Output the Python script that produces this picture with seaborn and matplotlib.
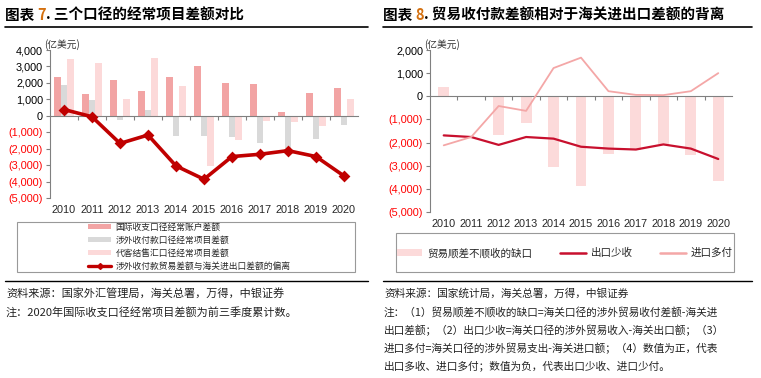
import matplotlib
matplotlib.use("Agg")
import matplotlib.pyplot as plt
import seaborn as sns
import pandas as pd
from matplotlib.patches import Rectangle, Patch
from matplotlib.lines import Line2D
from matplotlib.ticker import FuncFormatter

sns.set_theme(style="white")
plt.rcParams['font.family'] = ['Liberation Sans', 'Noto Sans CJK SC', 'DejaVu Sans']
CJK = ['Noto Sans CJK SC', 'DejaVu Sans']

years = ['2010', '2011', '2012', '2013', '2014', '2015', '2016', '2017', '2018', '2019', '2020']

# Chart 7 data (亿美元)
bop_ca = [2350, 1350, 2150, 1500, 2350, 3030, 2020, 1960, 240, 1410, 1660]
cross_border_ca = [1860, 950, -250, 350, -1200, -1230, -1270, -1640, -2080, -1410, -570]
fx_settlement_ca = [3430, 3200, 1050, 3500, 1800, -3080, -1470, -300, -360, -630, 1010]
deviation = [380, -60, -1680, -1170, -3050, -3860, -2480, -2340, -2120, -2480, -3660]

series7 = ['国际收支口径经常账户差额', '涉外收付款口径经常项目差额', '代客结售汇口径经常项目差额']
line7_label = '涉外收付款贸易差额与海关进出口差额的偏离'

# Chart 8 data (亿美元)
gap = [390, -30, -1690, -1160, -3060, -3870, -2490, -2300, -2080, -2520, -3680]
export_less = [-1690, -1760, -2100, -1760, -1830, -2180, -2260, -2300, -2080, -2260, -2710]
import_more = [-2120, -1760, -420, -630, 1220, 1670, 220, 60, 50, 220, 1000]
labels8 = ['贸易顺差不顺收的缺口', '出口少收', '进口多付']

c_red = '#F2A4A4'
c_gray = '#D9D9D9'
c_pink = '#FCD9D9'
c_line = '#C00000'
c_gap = '#FCDADA'
c_exp = '#C8102E'
c_imp = '#F4A7A7'

W, H = 761, 378
fig = plt.figure(figsize=(W / 100, H / 100), dpi=100)


def fx(px):
    return px / W


def fy(py):
    return 1 - py / H


def fmt(v, pos):
    if v < 0:
        return '({:,.0f})'.format(-v)
    return '{:,.0f}'.format(v)


def style_axis(ax, ylo, yhi):
    ax.set_ylim(ylo, yhi)
    ax.set_xlim(-0.5, len(years) - 0.5)
    ax.set_yticks(range(ylo, yhi + 1, 1000))
    ax.yaxis.set_major_formatter(FuncFormatter(fmt))
    for s in ['top', 'right']:
        ax.spines[s].set_visible(False)
    ax.spines['left'].set_color('#808080')
    ax.spines['left'].set_linewidth(0.8)
    ax.spines['bottom'].set_position(('data', 0))
    ax.spines['bottom'].set_color('#808080')
    ax.spines['bottom'].set_linewidth(0.8)
    ax.set_xticks(range(len(years)))
    ax.tick_params(axis='x', which='major', length=0, labelbottom=False)
    ax.set_xticks([i + 0.5 for i in range(len(years) - 1)], minor=True)
    ax.tick_params(axis='x', which='minor', length=3, color='#808080', width=0.8, direction='out', bottom=True)
    ax.tick_params(axis='y', length=3, color='#808080', width=0.8, direction='out', left=True, labelsize=7.8, pad=2)
    for lab in ax.get_yticklabels():
        lab.set_color('#FF0000' if lab.get_text().startswith('(') else '#000000')
    sec = ax.secondary_xaxis(0)
    sec.set_xticks(range(len(years)), labels=years)
    sec.spines['bottom'].set_visible(False)
    sec.tick_params(length=0, labelsize=7.8, pad=5)
    ax.set_xlabel('')
    ax.set_ylabel('')
    ax.grid(False)


# ---------- Left chart ----------
ax1 = fig.add_axes([fx(50), fy(198), fx(358) - fx(50), fy(50) - fy(198)])
df7 = pd.DataFrame({
    'year': years * 3,
    'value': bop_ca + cross_border_ca + fx_settlement_ca,
    'series': [series7[0]] * 11 + [series7[1]] * 11 + [series7[2]] * 11,
})
sns.barplot(data=df7, x='year', y='value', hue='series', order=years, hue_order=series7,
            palette=[c_red, c_gray, c_pink], width=0.72, saturation=1, ax=ax1, legend=False,
            linewidth=0)
sns.pointplot(x=years, y=deviation, order=years, color=c_line, markers='D', markersize=4.5,
              linewidth=2.6, ax=ax1, zorder=5)
style_axis(ax1, -5000, 4000)
ax1.text(-0.02, 1.0, '(亿美元)', transform=ax1.transAxes, ha='left', va='bottom',
         fontsize=7, family=CJK, color='#333333')

# ---------- Right chart ----------
ax2 = fig.add_axes([fx(430), fy(212), fx(732) - fx(430), fy(50) - fy(212)])
sns.barplot(x=years, y=gap, order=years, color=c_gap, width=0.4, saturation=1, ax=ax2, linewidth=0)
df_exp = pd.DataFrame({'year': years, 'value': export_less})
df_imp = pd.DataFrame({'year': years, 'value': import_more})
sns.lineplot(data=df_exp, x='year', y='value', color=c_exp, linewidth=1.6, sort=False, ax=ax2, zorder=4)
sns.lineplot(data=df_imp, x='year', y='value', color=c_imp, linewidth=1.3, sort=False, ax=ax2, zorder=4)
style_axis(ax2, -5000, 2000)
ax2.text(-0.02, 1.0, '(亿美元)', transform=ax2.transAxes, ha='left', va='bottom',
         fontsize=7, family=CJK, color='#333333')

# ---------- Titles ----------
fig.canvas.draw()
renderer = fig.canvas.get_renderer()


def chain_title(x0, y0, parts):
    x = x0
    for txt, col in parts:
        t = fig.text(x, y0, txt, ha='left', va='center', fontsize=10.5, fontweight='bold',
                     family=CJK, color=col)
        bb = t.get_window_extent(renderer=renderer)
        x += bb.width / W


chain_title(fx(5), fy(15), [('图表 ', '#000000'), ('7', '#D4700F'), ('. 三个口径的经常项目差额对比', '#000000')])
chain_title(fx(383), fy(15), [('图表 ', '#000000'), ('8', '#D4700F'), ('. 贸易收付款差额相对于海关进出口差额的背离', '#000000')])

for (x0, x1) in [(5, 368), (383, 752)]:
    fig.add_artist(Line2D([fx(x0), fx(x1)], [fy(27), fy(27)], color='black', linewidth=1.2))
    fig.add_artist(Line2D([fx(x0), fx(x1)], [fy(281), fy(281)], color='black', linewidth=1.0))

# ---------- Legends ----------
fig.add_artist(Rectangle((fx(17), fy(272)), fx(355) - fx(17), fy(222) - fy(272),
                         fill=False, edgecolor='#999999', linewidth=0.8))
h7 = [Patch(facecolor=c_red, edgecolor='none'), Patch(facecolor=c_gray, edgecolor='none'),
      Patch(facecolor=c_pink, edgecolor='none'),
      Line2D([0], [0], color=c_line, linewidth=2.4, marker='D', markersize=3)]
fig.legend(h7, series7 + [line7_label], loc='center left', bbox_to_anchor=(fx(84), fy(247)),
           frameon=False, prop={'family': CJK, 'size': 6.3}, handlelength=2.6, handleheight=0.5,
           labelspacing=0.45, handletextpad=0.5, borderpad=0)

fig.add_artist(Rectangle((fx(396), fy(272)), fx(734) - fx(396), fy(233) - fy(272),
                         fill=False, edgecolor='#999999', linewidth=0.8))
h8 = [Patch(facecolor=c_gap, edgecolor='none'),
      Line2D([0], [0], color=c_exp, linewidth=1.8),
      Line2D([0], [0], color=c_imp, linewidth=1.8)]
fig.legend(h8, labels8, loc='center', bbox_to_anchor=(fx(565), fy(253)), ncol=3,
           frameon=False, prop={'family': CJK, 'size': 7.6}, handlelength=2.4, handleheight=0.5,
           columnspacing=2.6, handletextpad=0.5, borderpad=0)

# ---------- Source / notes ----------
lprops = dict(fontsize=8.0, family=CJK, color='#222222', ha='left', va='center')
fig.text(fx(6), fy(293), '资料来源：国家外汇管理局，海关总署，万得，中银证券', **lprops)
fig.text(fx(6), fy(312), '注：2020年国际收支口径经常项目差额为前三季度累计数。', **lprops)

rprops = dict(fontsize=7.7, family=CJK, color='#222222', ha='left', va='center')
fig.text(fx(384), fy(293), '资料来源：国家统计局，海关总署，万得，中银证券', **rprops)
notes = ['注：（1）贸易顺差不顺收的缺口=海关口径的涉外贸易收付差额-海关进',
         '出口差额；（2）出口少收=海关口径的涉外贸易收入-海关出口额；（3）',
         '进口多付=海关口径的涉外贸易支出-海关进口额；（4）数值为正，代表',
         '出口多收、进口多付；数值为负，代表出口少收、进口少付。']
for i, line in enumerate(notes):
    fig.text(fx(384), fy(312 + 18.3 * i), line, **rprops)

fig.savefig('out.png', dpi=100)
